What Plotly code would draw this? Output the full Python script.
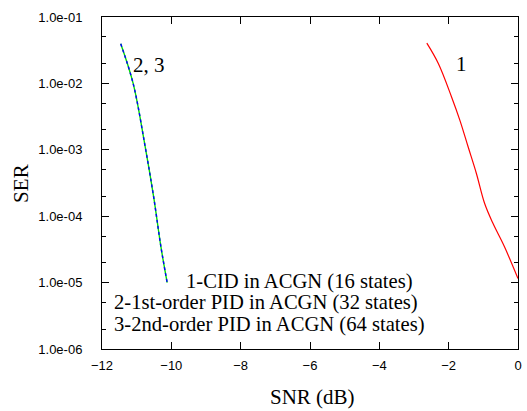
import plotly.graph_objects as go

# Series 1: CID in ACGN (16 states)
snr_1 = [-2.63, -2.295, -1.914, -1.676, -1.437, -1.2, -0.962, -0.723, -0.39, 0.0]
ser_1 = [0.0404, 0.0198, 6.2e-3, 2.78e-3, 1.1e-3, 4.4e-4, 1.55e-4, 7.8e-5, 3.46e-5, 1.15e-5]

# Series 2: 1st-order PID in ACGN (32 states)
snr_2 = [-11.46, -11.1, -10.77, -10.51, -10.3, -10.12]
ser_2 = [0.0395, 9.9e-3, 1.24e-3, 1.95e-4, 3.45e-5, 1.0e-5]

# Series 3: 2nd-order PID in ACGN (64 states)
snr_3 = [-11.46, -11.1, -10.77, -10.51, -10.3, -10.12]
ser_3 = [0.0395, 9.9e-3, 1.24e-3, 1.95e-4, 3.45e-5, 1.0e-5]

x_ticks = [-12, -10, -8, -6, -4, -2, 0]
y_ticks = [1e-6, 1e-5, 1e-4, 1e-3, 1e-2, 1e-1]
y_tick_labels = ["1.0e-06", "1.0e-05", "1.0e-04", "1.0e-03", "1.0e-02", "1.0e-01"]
y_minor = [m * 10.0 ** e for e in range(-6, -1) for m in (2, 5)]

legend_lines = [
    "1-CID in ACGN (16 states)",
    "2-1st-order PID in ACGN (32 states)",
    "3-2nd-order PID in ACGN (64 states)",
]

serif = "Liberation Serif, Times New Roman, serif"
sans = "Liberation Sans, Arial, sans-serif"

fig = go.Figure()
fig.add_trace(go.Scatter(x=snr_1, y=ser_1, mode="lines", name=legend_lines[0],
                         line=dict(color="#ff0000", width=1.2, shape="spline", smoothing=1.0)))
fig.add_trace(go.Scatter(x=snr_2, y=ser_2, mode="lines", name=legend_lines[1],
                         line=dict(color="#00dd00", width=1.4, shape="spline")))
fig.add_trace(go.Scatter(x=snr_3, y=ser_3, mode="lines", name=legend_lines[2],
                         line=dict(color="#0000ff", width=1.4, dash="dot", shape="spline")))

fig.update_layout(
    width=527, height=411,
    margin=dict(l=102, r=5, t=17, b=62),
    paper_bgcolor="white", plot_bgcolor="white",
    showlegend=False,
    font=dict(family=sans, size=13, color="black"),
)
fig.update_xaxes(
    range=[-12, 0], tickmode="array", tickvals=x_ticks,
    ticks="inside", ticklen=7, tickwidth=1, tickcolor="black",
    showline=True, linecolor="black", linewidth=1, mirror="ticks",
    showgrid=False, zeroline=False, ticklabelstandoff=4,
    tickfont=dict(family=sans, size=13, color="black"),
)
fig.update_yaxes(
    type="log", range=[-6, -1], tickmode="array", tickvals=y_ticks, ticktext=y_tick_labels,
    ticks="inside", ticklen=7, tickwidth=1, tickcolor="black",
    minor=dict(tickmode="array", tickvals=y_minor, ticks="inside", ticklen=4,
               tickcolor="black", tickwidth=1),
    showline=True, linecolor="black", linewidth=1, mirror="ticks",
    showgrid=False, zeroline=False, ticklabelstandoff=16,
    tickfont=dict(family=sans, size=13, color="black"),
)

ann = []
# Axis titles
ann.append(dict(text="SNR (dB)", xref="paper", yref="paper", x=0.507, y=-0.146,
                xanchor="center", yanchor="middle", showarrow=False,
                font=dict(family=serif, size=21, color="black")))
ann.append(dict(text="SER", xref="paper", yref="paper", x=-0.195, y=0.5, textangle=-90,
                xanchor="center", yanchor="middle", showarrow=False,
                font=dict(family=serif, size=21, color="black")))
# Curve labels
ann.append(dict(text="2, 3", xref="x", yref="y", x=-10.63, y=-1.724,
                xanchor="center", yanchor="middle", showarrow=False,
                font=dict(family=serif, size=21, color="black")))
ann.append(dict(text="1", xref="x", yref="y", x=-1.63, y=-1.71,
                xanchor="center", yanchor="middle", showarrow=False,
                font=dict(family=serif, size=21, color="black")))
# Legend text lines
for txt, xx, yy in zip(legend_lines, [0.1976, 0.0238, 0.0238], [0.2036, 0.140, 0.074]):
    ann.append(dict(text=txt, xref="paper", yref="paper", x=xx, y=yy,
                    xanchor="left", yanchor="middle", showarrow=False,
                    font=dict(family=serif, size=20.6, color="black")))
fig.update_layout(annotations=ann)

fig.write_html("out.html", config={"displayModeBar": False},
               post_script="document.body.style.margin='0';document.body.style.overflow='hidden';")
